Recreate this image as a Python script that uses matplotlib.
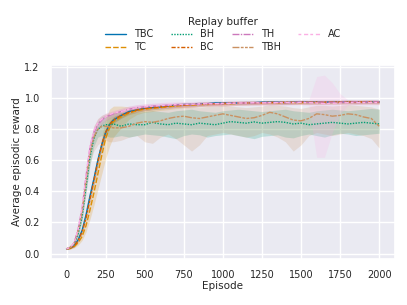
import numpy as np
import matplotlib
matplotlib.use("Agg")
import matplotlib.pyplot as plt
import seaborn as sns

episodes = [0, 25, 50, 75, 100, 125, 150, 175, 200, 225, 250, 275, 300,
            350, 400, 450, 500, 550, 600, 650, 700, 750, 800, 850, 900, 950,
            1000, 1050, 1100, 1150, 1200, 1250, 1300, 1350, 1400, 1450, 1500,
            1550, 1600, 1650, 1700, 1750, 1800, 1850, 1900, 1950, 2000]

names = ["TBC", "TC", "BH", "BC", "TH", "TBH", "AC"]

tbc_mean = [0.03, 0.035, 0.05, 0.09, 0.15, 0.25, 0.37, 0.48, 0.60, 0.70, 0.78, 0.83, 0.86,
            0.89, 0.915, 0.925, 0.935, 0.94, 0.945, 0.95, 0.955, 0.96, 0.96, 0.965, 0.965, 0.97,
            0.97, 0.97, 0.97, 0.972, 0.972, 0.975, 0.975, 0.975, 0.973, 0.975, 0.977,
            0.975, 0.976, 0.975, 0.977, 0.976, 0.978, 0.976, 0.977, 0.978, 0.977]
tbc_spread = [0.003, 0.004, 0.006, 0.01, 0.015, 0.02, 0.025, 0.03, 0.03, 0.03, 0.025, 0.02, 0.02,
              0.018, 0.016, 0.015, 0.015, 0.014, 0.014, 0.013, 0.013, 0.012, 0.012, 0.012, 0.011, 0.011,
              0.011, 0.01, 0.01, 0.01, 0.01, 0.01, 0.01, 0.01, 0.01, 0.01, 0.01,
              0.01, 0.01, 0.01, 0.01, 0.01, 0.01, 0.01, 0.01, 0.01, 0.01]

tc_mean = [0.03, 0.033, 0.045, 0.07, 0.11, 0.18, 0.28, 0.39, 0.51, 0.63, 0.74, 0.81, 0.85,
           0.88, 0.905, 0.92, 0.93, 0.935, 0.94, 0.945, 0.95, 0.955, 0.955, 0.96, 0.96, 0.965,
           0.965, 0.965, 0.968, 0.97, 0.97, 0.97, 0.972, 0.97, 0.972, 0.973, 0.972,
           0.974, 0.973, 0.975, 0.974, 0.975, 0.976, 0.975, 0.976, 0.976, 0.975]
tc_spread = [0.003, 0.004, 0.008, 0.015, 0.025, 0.04, 0.06, 0.08, 0.10, 0.12, 0.13, 0.12, 0.10,
             0.07, 0.04, 0.025, 0.02, 0.02, 0.018, 0.018, 0.016, 0.016, 0.015, 0.015, 0.015, 0.014,
             0.014, 0.013, 0.013, 0.013, 0.012, 0.012, 0.012, 0.012, 0.012, 0.012, 0.012,
             0.012, 0.012, 0.012, 0.012, 0.012, 0.012, 0.012, 0.012, 0.012, 0.012]

bh_mean = [0.03, 0.04, 0.065, 0.13, 0.24, 0.43, 0.62, 0.74, 0.80, 0.82, 0.83, 0.83, 0.835,
           0.82, 0.835, 0.83, 0.83, 0.845, 0.835, 0.83, 0.84, 0.835, 0.83, 0.84, 0.835, 0.83,
           0.84, 0.85, 0.845, 0.84, 0.848, 0.84, 0.845, 0.85, 0.845, 0.835, 0.84,
           0.83, 0.835, 0.84, 0.845, 0.84, 0.835, 0.84, 0.845, 0.84, 0.835]
bh_low = [0.025, 0.035, 0.055, 0.11, 0.21, 0.39, 0.57, 0.69, 0.75, 0.76, 0.76, 0.75, 0.75,
          0.76, 0.75, 0.76, 0.77, 0.765, 0.76, 0.75, 0.74, 0.76, 0.77, 0.765, 0.75, 0.76,
          0.765, 0.77, 0.76, 0.75, 0.74, 0.755, 0.76, 0.765, 0.75, 0.745, 0.76,
          0.77, 0.76, 0.75, 0.765, 0.775, 0.77, 0.76, 0.765, 0.77, 0.775]
bh_high = [0.035, 0.045, 0.075, 0.15, 0.27, 0.47, 0.67, 0.79, 0.85, 0.88, 0.89, 0.90, 0.905,
           0.91, 0.905, 0.91, 0.915, 0.92, 0.915, 0.91, 0.92, 0.925, 0.93, 0.92, 0.915, 0.91,
           0.92, 0.925, 0.93, 0.925, 0.92, 0.915, 0.92, 0.925, 0.93, 0.92, 0.915,
           0.91, 0.92, 0.925, 0.93, 0.925, 0.92, 0.925, 0.93, 0.935, 0.93]

bc_mean = [0.03, 0.034, 0.048, 0.085, 0.14, 0.23, 0.35, 0.47, 0.59, 0.70, 0.78, 0.83, 0.86,
           0.89, 0.91, 0.925, 0.935, 0.94, 0.945, 0.95, 0.955, 0.955, 0.96, 0.962, 0.965, 0.965,
           0.968, 0.97, 0.97, 0.97, 0.972, 0.972, 0.975, 0.973, 0.975, 0.974, 0.976,
           0.975, 0.976, 0.975, 0.977, 0.976, 0.977, 0.976, 0.977, 0.977, 0.976]
bc_spread = [0.003, 0.004, 0.006, 0.01, 0.015, 0.02, 0.025, 0.03, 0.035, 0.035, 0.03, 0.025, 0.02,
             0.018, 0.016, 0.015, 0.015, 0.014, 0.014, 0.013, 0.013, 0.013, 0.012, 0.012, 0.012, 0.012,
             0.011, 0.011, 0.011, 0.011, 0.011, 0.011, 0.011, 0.011, 0.011, 0.011, 0.011,
             0.011, 0.011, 0.011, 0.011, 0.011, 0.011, 0.011, 0.011, 0.011, 0.011]

th_mean = [0.03, 0.04, 0.07, 0.16, 0.29, 0.50, 0.68, 0.78, 0.83, 0.86, 0.88, 0.89, 0.90,
           0.915, 0.93, 0.94, 0.945, 0.95, 0.953, 0.955, 0.957, 0.96, 0.96, 0.962, 0.965, 0.965,
           0.965, 0.968, 0.97, 0.97, 0.97, 0.972, 0.972, 0.973, 0.972, 0.974, 0.975,
           0.974, 0.975, 0.976, 0.975, 0.976, 0.976, 0.977, 0.976, 0.977, 0.977]
th_spread = [0.004, 0.006, 0.01, 0.02, 0.03, 0.04, 0.04, 0.04, 0.035, 0.03, 0.025, 0.022, 0.02,
             0.02, 0.02, 0.018, 0.018, 0.017, 0.017, 0.016, 0.016, 0.015, 0.015, 0.015, 0.015, 0.014,
             0.014, 0.014, 0.014, 0.014, 0.014, 0.014, 0.014, 0.014, 0.014, 0.014, 0.014,
             0.014, 0.014, 0.014, 0.014, 0.014, 0.014, 0.014, 0.014, 0.014, 0.014]

tbh_mean = [0.03, 0.04, 0.07, 0.15, 0.27, 0.47, 0.65, 0.75, 0.80, 0.82, 0.82, 0.815, 0.81,
            0.81, 0.82, 0.84, 0.85, 0.845, 0.855, 0.87, 0.88, 0.885, 0.875, 0.87, 0.88, 0.89,
            0.90, 0.89, 0.88, 0.87, 0.875, 0.89, 0.91, 0.90, 0.88, 0.86, 0.855,
            0.87, 0.90, 0.895, 0.885, 0.89, 0.90, 0.895, 0.88, 0.87, 0.82]
tbh_low = [0.025, 0.035, 0.06, 0.12, 0.22, 0.40, 0.58, 0.66, 0.70, 0.72, 0.73, 0.72, 0.72,
           0.73, 0.75, 0.76, 0.72, 0.71, 0.75, 0.77, 0.74, 0.70, 0.66, 0.70, 0.76, 0.77,
           0.78, 0.77, 0.76, 0.75, 0.76, 0.78, 0.77, 0.75, 0.72, 0.66, 0.70,
           0.76, 0.78, 0.77, 0.76, 0.77, 0.78, 0.77, 0.76, 0.74, 0.68]
tbh_high = [0.035, 0.045, 0.08, 0.18, 0.32, 0.54, 0.72, 0.82, 0.87, 0.89, 0.90, 0.905, 0.91,
            0.91, 0.915, 0.92, 0.93, 0.925, 0.93, 0.94, 0.945, 0.95, 0.945, 0.94, 0.945, 0.95,
            0.955, 0.95, 0.945, 0.94, 0.945, 0.95, 0.96, 0.955, 0.95, 0.94, 0.935,
            0.945, 0.955, 0.955, 0.95, 0.955, 0.96, 0.955, 0.95, 0.945, 0.93]

ac_mean = [0.03, 0.04, 0.072, 0.16, 0.30, 0.51, 0.69, 0.79, 0.84, 0.865, 0.88, 0.895, 0.905,
           0.915, 0.93, 0.94, 0.945, 0.95, 0.953, 0.957, 0.96, 0.96, 0.962, 0.965, 0.965, 0.965,
           0.968, 0.968, 0.97, 0.97, 0.972, 0.97, 0.972, 0.972, 0.973, 0.972, 0.974,
           0.972, 0.97, 0.965, 0.968, 0.97, 0.972, 0.973, 0.972, 0.973, 0.972]
ac_low = [0.026, 0.034, 0.06, 0.14, 0.27, 0.47, 0.65, 0.76, 0.815, 0.845, 0.86, 0.875, 0.885,
          0.895, 0.91, 0.92, 0.925, 0.93, 0.933, 0.937, 0.94, 0.94, 0.945, 0.948, 0.95, 0.95,
          0.952, 0.952, 0.955, 0.955, 0.957, 0.955, 0.957, 0.957, 0.958, 0.957, 0.958,
          0.955, 0.62, 0.62, 0.78, 0.90, 0.955, 0.958, 0.957, 0.958, 0.957]
ac_high = [0.034, 0.046, 0.085, 0.18, 0.33, 0.55, 0.73, 0.82, 0.865, 0.885, 0.90, 0.915, 0.925,
           0.935, 0.95, 0.96, 0.965, 0.97, 0.973, 0.977, 0.98, 0.98, 0.98, 0.982, 0.982, 0.982,
           0.985, 0.985, 0.985, 0.985, 0.987, 0.985, 0.987, 0.987, 0.988, 0.987, 0.99,
           0.99, 1.14, 1.15, 1.10, 1.03, 0.99, 0.99, 0.988, 0.99, 0.988]

sns.set_theme(style="darkgrid")
plt.rcParams['font.family'] = ['DejaVu Sans']

palette = sns.color_palette("colorblind", 7)
dashes = ["", (4, 1.5), (1, 1), (3, 1.25, 1.5, 1.25), (5, 1, 1, 1),
          (5, 1, 2, 1, 2, 1), (2, 2, 3, 1.5)]

x = np.array(episodes)
means = [tbc_mean, tc_mean, bh_mean, bc_mean, th_mean, tbh_mean, ac_mean]
bands = [
    (np.array(tbc_mean) - tbc_spread, np.array(tbc_mean) + tbc_spread),
    (np.array(tc_mean) - tc_spread, np.array(tc_mean) + tc_spread),
    (bh_low, bh_high),
    (np.array(bc_mean) - bc_spread, np.array(bc_mean) + bc_spread),
    (np.array(th_mean) - th_spread, np.array(th_mean) + th_spread),
    (tbh_low, tbh_high),
    (ac_low, ac_high),
]

fig = plt.figure(figsize=(4.07, 3.05), dpi=100)
ax = fig.add_axes([0.125, 0.151, 0.845, 0.636])

for i, name in enumerate(names):
    lo, hi = bands[i]
    ax.fill_between(x, lo, hi, color=palette[i], alpha=0.2, linewidth=0)
    line, = ax.plot(x, means[i], color=palette[i], lw=1.0, label=name)
    if dashes[i]:
        line.set_dashes(dashes[i])

ax.set_xlim(-100, 2100)
ax.set_ylim(-0.035, 1.215)
ax.set_xticks([0, 250, 500, 750, 1000, 1250, 1500, 1750, 2000])
ax.set_yticks([0.0, 0.2, 0.4, 0.6, 0.8, 1.0, 1.2])
ax.tick_params(labelsize=7, pad=2)
ax.set_xlabel("Episode", fontsize=7.5, labelpad=1)
ax.set_ylabel("Average episodic reward", fontsize=7.5, labelpad=2)

leg = ax.legend(title="Replay buffer", ncol=4, loc="lower center",
                bbox_to_anchor=(0.5, 1.03), frameon=False, fontsize=7,
                title_fontsize=7.5, borderaxespad=0.3, handlelength=2.2,
                columnspacing=1.8, labelspacing=0.3)

fig.savefig("out.png", dpi=100)
